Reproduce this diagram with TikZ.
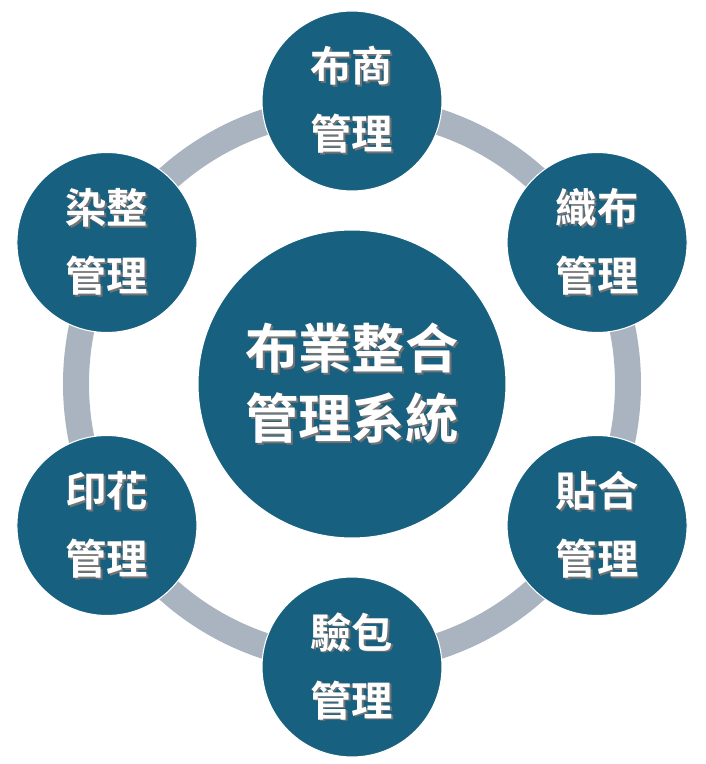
\documentclass[tikz,border=0pt]{standalone}
\usepackage{fontspec}
\newfontfamily\cjk{Noto Sans CJK TC}[BoldFont={* Bold}]
\definecolor{hubblue}{HTML}{17607F}
\definecolor{ringgray}{HTML}{A9B4C0}
\newcommand\shd[1]{\makebox[0pt][l]{\kern1.3pt\raisebox{-1.3pt}{\textcolor{black!55}{#1}}}#1}
\tikzset{
  hub/.style={circle, fill=hubblue, draw=white, line width=0.8pt, text=white,
    align=center, inner sep=0pt},
  part/.style={hub, minimum size=135pt, font=\cjk\bfseries\fontsize{31}{51}\selectfont},
  core/.style={hub, minimum size=231pt, font=\cjk\bfseries\fontsize{40}{52.5}\selectfont}
}
\begin{document}
\begin{tikzpicture}[x=0.75pt, y=0.75pt]
  \useasboundingbox (-352,-380) rectangle (354,384);
  \draw[ringgray, line width=19.5pt] (0,0) circle (276);
  \node[core] (c) at (0,0) {\shd{布業整合}\\\shd{管理系統}};
  \draw
    (90:283) node[part] (0){\shd{布商}\\\shd{管理}}
    (30:283) node[part] (1){\shd{織布}\\\shd{管理}}
    (-30:283) node[part] (2){\shd{貼合}\\\shd{管理}}
    (-90:283) node[part] (3){\shd{驗包}\\\shd{管理}}
    (-150:283) node[part] (4){\shd{印花}\\\shd{管理}}
    (150:283) node[part] (5){\shd{染整}\\\shd{管理}};
\end{tikzpicture}
\end{document}
